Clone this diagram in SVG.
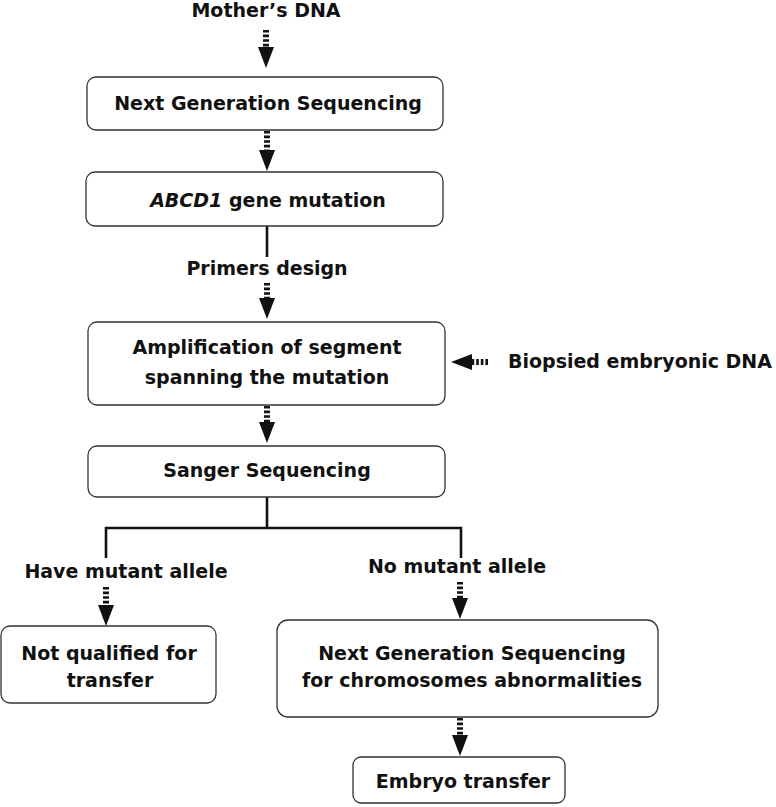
<svg xmlns="http://www.w3.org/2000/svg" width="776" height="807" viewBox="0 0 776 807">
<style>
.box{fill:#fff;stroke:#333;stroke-width:1.3}
.t{font-family:"DejaVu Sans","Liberation Sans",sans-serif;font-weight:bold;font-size:19px;fill:#111;text-anchor:middle}
.sh{stroke:#111;stroke-width:6;stroke-dasharray:2.6 2;fill:none}
.ln{stroke:#111;stroke-width:2.6;fill:none}
</style>
<defs>
<marker id="ah" markerUnits="userSpaceOnUse" markerWidth="22" markerHeight="16" refX="0" refY="8" orient="auto" viewBox="0 0 22 16">
<polygon points="0,0 21,8 0,16" fill="#111"/>
</marker>
</defs>
<rect width="776" height="807" fill="#fff"/>
<g id="connectors">
<line class="sh" x1="266" y1="30" x2="266" y2="47" marker-end="url(#ah)"/>
<line class="sh" x1="267" y1="131" x2="267" y2="150" marker-end="url(#ah)"/>
<line class="ln" x1="267" y1="226" x2="267" y2="257"/>
<line class="sh" x1="267" y1="283" x2="267" y2="298" marker-end="url(#ah)"/>
<line class="sh" x1="267" y1="406" x2="267" y2="422" marker-end="url(#ah)"/>
<line class="sh" x1="488" y1="362" x2="472" y2="362" marker-end="url(#ah)"/>
<polyline class="ln" points="267,497 267,528"/>
<polyline class="ln" points="106,558 106,528 461,528 461,558"/>
<line class="sh" x1="106" y1="587" x2="106" y2="605" marker-end="url(#ah)"/>
<line class="sh" x1="460" y1="582" x2="460" y2="598" marker-end="url(#ah)"/>
<line class="sh" x1="460" y1="718" x2="460" y2="735" marker-end="url(#ah)"/>
</g>
<g id="mothers-dna"><text class="t" x="266" y="17">Mother’s DNA</text></g>
<g id="ngs"><rect class="box" x="87" y="77" width="356" height="53" rx="9"/><text class="t" x="268" y="110">Next Generation Sequencing</text></g>
<g id="abcd1"><rect class="box" x="86" y="172" width="357" height="54" rx="9"/><text class="t" x="268" y="207"><tspan font-style="italic">ABCD1</tspan> gene mutation</text></g>
<g id="primers"><text class="t" x="267" y="275">Primers design</text></g>
<g id="amplification"><rect class="box" x="88" y="322" width="357" height="83" rx="9"/><text class="t" x="267" y="354">Amplification of segment</text><text class="t" x="267" y="384">spanning the mutation</text></g>
<g id="biopsied"><text class="t" x="640" y="368">Biopsied embryonic DNA</text></g>
<g id="sanger"><rect class="box" x="88" y="446" width="357" height="51" rx="9"/><text class="t" x="267" y="477">Sanger Sequencing</text></g>
<g id="have-mutant"><text class="t" x="126" y="578">Have mutant allele</text></g>
<g id="no-mutant"><text class="t" x="457" y="573">No mutant allele</text></g>
<g id="not-qualified"><rect class="box" x="1" y="626" width="215" height="77" rx="9"/><text class="t" x="109" y="660">Not qualified for</text><text class="t" x="110" y="687">transfer</text></g>
<g id="ngs-chrom"><rect class="box" x="277" y="620" width="381" height="97" rx="11"/><text class="t" x="472" y="660">Next Generation Sequencing</text><text class="t" x="472" y="687">for chromosomes abnormalities</text></g>
<g id="embryo-transfer"><rect class="box" x="353" y="757" width="212" height="46" rx="8"/><text class="t" x="463" y="788">Embryo transfer</text></g>
</svg>
